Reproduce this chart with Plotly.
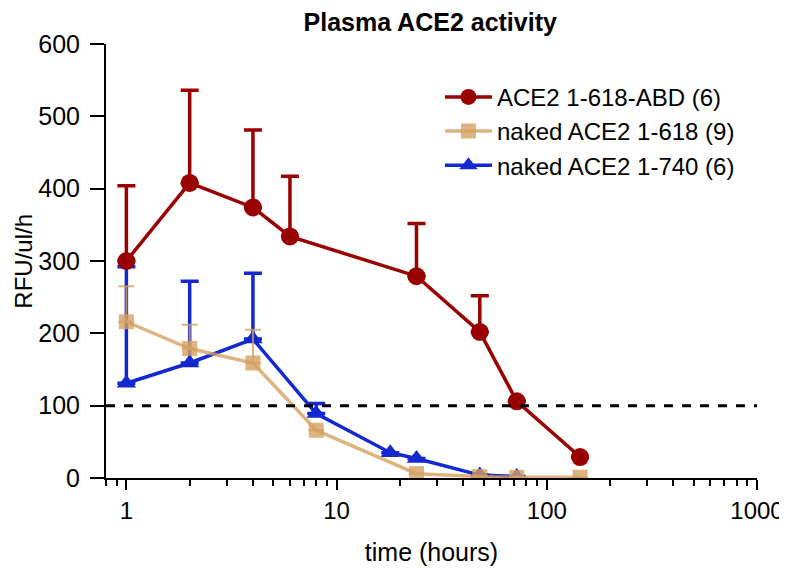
import plotly.graph_objects as go

# time points (hours) and RFU/ul/h values
abd_t = [1, 2, 4, 6, 24, 48, 72, 144]
abd_y = [300, 408, 374, 334, 279, 202, 106, 29]
abd_err = [104, 128, 107, 83, 73, 50, 0, 0]

n618_t = [1, 2, 4, 8, 24, 48, 72, 144]
n618_y = [216, 179, 159, 66, 6, 2, 1, 1]
n618_err = [49, 33, 46, 0, 0, 0, 0, 0]

n740_t = [1, 2, 4, 8, 18, 24, 48, 72]
n740_y = [131, 159, 192, 89, 35, 27, 4, 2]
n740_err = [161, 113, 91, 14, 0, 0, 0, 0]

red = '#990000'
tan = 'rgba(212,160,96,0.8)'
blue = '#1428D2'

fig = go.Figure()

fig.add_hline(y=100, line=dict(color='black', width=3, dash='dash'))

# blue first so tan sits on top of it, red on top of everything
fig.add_trace(go.Scatter(
    x=n740_t, y=n740_y, mode='lines+markers', name='naked ACE2 1-740 (6)',
    line=dict(color=blue, width=3.5),
    marker=dict(symbol='triangle-up', size=17, color=blue),
    error_y=dict(type='data', symmetric=False, array=n740_err, arrayminus=[0] * len(n740_err),
                 color=blue, thickness=3.5, width=9),
))

fig.add_trace(go.Scatter(
    x=n618_t, y=n618_y, mode='lines+markers', name='naked ACE2 1-618 (9)',
    line=dict(color=tan, width=3.5),
    marker=dict(symbol='square', size=15, color=tan),
    error_y=dict(type='data', symmetric=False, array=n618_err, arrayminus=[0] * len(n618_err),
                 color=tan, thickness=2, width=8),
))

fig.add_trace(go.Scatter(
    x=abd_t, y=abd_y, mode='lines+markers', name='ACE2 1-618-ABD (6)',
    line=dict(color=red, width=3.5),
    marker=dict(symbol='circle', size=18, color=red),
    error_y=dict(type='data', symmetric=False, array=abd_err, arrayminus=[0] * len(abd_err),
                 color=red, thickness=3.5, width=9),
))

# y title as an annotation so it can sit closer to the page edge
fig.add_annotation(text='RFU/ul/h', textangle=-90, showarrow=False,
                   xref='paper', yref='paper', x=-0.128, y=0.5,
                   xanchor='center', yanchor='middle', font=dict(size=24))

# page body has an 8px margin, so the figure is sized to fit the window
fig.update_layout(
    width=779, height=562,
    margin=dict(l=98, r=30, t=36, b=92),
    plot_bgcolor='white', paper_bgcolor='white',
    font=dict(family='Liberation Sans, Arial', size=24, color='black'),
    title=dict(text='<b>Plasma ACE2 activity</b>', x=0.542, xanchor='center', y=0.975, yanchor='middle',
               font=dict(size=25)),
    legend=dict(x=0.513, y=0.929, xanchor='left', yanchor='top', traceorder='reversed',
                itemwidth=47, bgcolor='rgba(0,0,0,0)', font=dict(size=24)),
    xaxis=dict(type='log', range=[-0.097, 3.0], showgrid=False, zeroline=False,
               showline=True, linecolor='black', linewidth=2, automargin=False,
               ticks='outside', ticklen=10, tickwidth=2, tickcolor='black',
               tickvals=[1, 10, 100, 1000], ticktext=['1', '10', '100', '1000'],
               minor=dict(ticks='outside', ticklen=6, tickwidth=1.5, tickcolor='black', dtick='D1'),
               title=dict(text='time (hours)', standoff=21, font=dict(size=25))),
    yaxis=dict(range=[0, 600], showgrid=False, zeroline=False,
               showline=True, linecolor='black', linewidth=2, automargin=False,
               ticks='outside', ticklen=14, tickwidth=2, tickcolor='black',
               ticklabelstandoff=5, tickfont=dict(size=25),
               tickvals=[0, 100, 200, 300, 400, 500, 600]),
)

fig.write_html("out.html")
